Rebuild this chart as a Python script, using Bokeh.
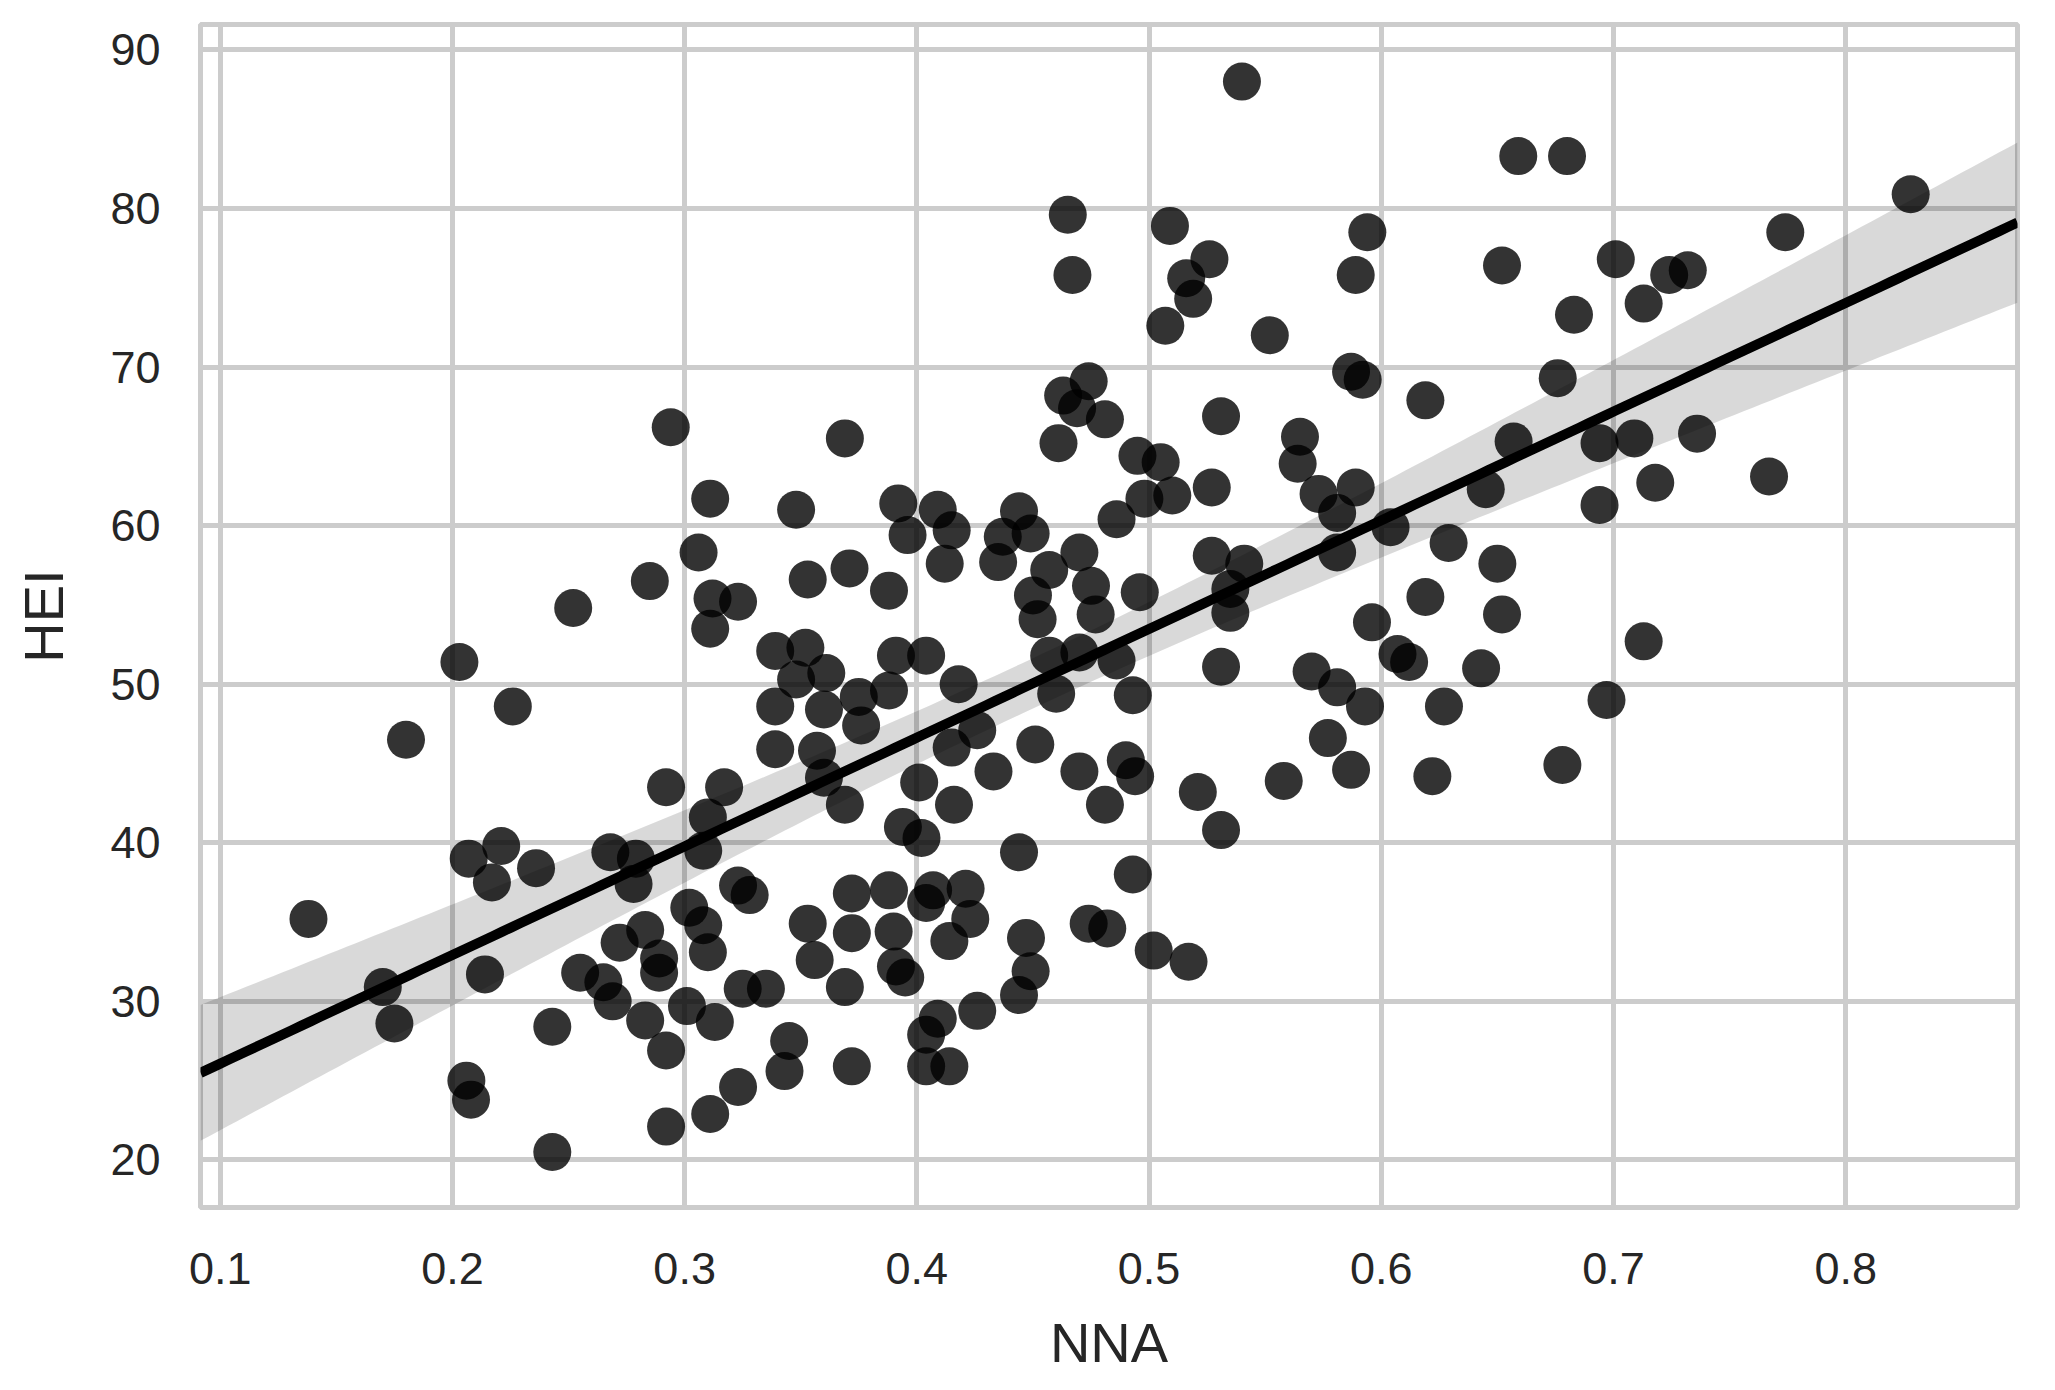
import numpy as np
from bokeh.plotting import figure
from bokeh.models import FixedTicker, Range1d
from bokeh.embed import file_html
from bokeh.resources import INLINE

x_label = "NNA"
y_label = "HEI"
x_ticks = [0.1, 0.2, 0.3, 0.4, 0.5, 0.6, 0.7, 0.8]
y_ticks = [20, 30, 40, 50, 60, 70, 80, 90]

nna = [
    0.138, 0.170, 0.175, 0.180, 0.203, 0.206, 0.208, 0.207, 0.221, 0.217,
    0.214, 0.226, 0.236, 0.243, 0.243, 0.252, 0.268, 0.279, 0.278, 0.310,
    0.308, 0.323, 0.328, 0.302, 0.308, 0.283, 0.272, 0.289, 0.310, 0.289,
    0.255, 0.265, 0.269, 0.301, 0.313, 0.325, 0.335, 0.283, 0.292, 0.345,
    0.343, 0.323, 0.311, 0.292, 0.353, 0.356, 0.294, 0.311, 0.348, 0.306,
    0.285, 0.353, 0.312, 0.323, 0.311, 0.339, 0.352, 0.348, 0.339, 0.339,
    0.292, 0.317,
    0.369, 0.465, 0.467, 0.509, 0.526, 0.516, 0.519, 0.507, 0.552, 0.594,
    0.589, 0.587, 0.592, 0.463, 0.469, 0.474, 0.481, 0.540, 0.531, 0.565,
    0.619, 0.461, 0.495, 0.505, 0.527, 0.564, 0.573, 0.589, 0.581, 0.604,
    0.581, 0.527, 0.541, 0.535, 0.535, 0.531, 0.596, 0.607, 0.612, 0.570,
    0.581, 0.593, 0.577, 0.587, 0.558, 0.521, 0.531,
    0.392, 0.396, 0.409, 0.415, 0.412, 0.388, 0.444, 0.449, 0.437, 0.435,
    0.457, 0.470, 0.450, 0.475, 0.452, 0.477, 0.496, 0.486, 0.498, 0.510,
    0.391, 0.404, 0.388, 0.418, 0.457, 0.470, 0.486, 0.460, 0.493,
    0.371, 0.361, 0.360, 0.375, 0.376, 0.357, 0.360, 0.369, 0.401, 0.416,
    0.415, 0.426, 0.433, 0.451, 0.470, 0.490, 0.494, 0.481, 0.394, 0.402,
    0.444, 0.493, 0.372, 0.388, 0.407, 0.421, 0.404, 0.423, 0.372, 0.390,
    0.414, 0.369, 0.391, 0.395, 0.474, 0.482, 0.502, 0.517, 0.447, 0.449,
    0.444, 0.426, 0.409, 0.404, 0.372, 0.404, 0.414,
    0.659, 0.680, 0.828, 0.774, 0.652, 0.701, 0.724, 0.732, 0.713, 0.683,
    0.676, 0.657, 0.694, 0.709, 0.736, 0.645, 0.718, 0.767, 0.694, 0.629,
    0.650, 0.619, 0.652, 0.643, 0.713, 0.627, 0.697, 0.622, 0.678,
]

hei = [
    35.2, 30.9, 28.6, 46.5, 51.4, 25.0, 23.8, 39.0, 39.8, 37.5,
    31.7, 48.6, 38.4, 28.4, 20.5, 54.8, 39.4, 39.0, 37.4, 41.6,
    39.5, 37.3, 36.7, 35.9, 34.8, 34.5, 33.7, 32.7, 33.1, 31.8,
    31.8, 31.2, 30.0, 29.7, 28.7, 30.8, 30.8, 28.8, 26.9, 27.5,
    25.6, 24.6, 22.9, 22.1, 34.9, 32.6, 66.2, 61.7, 61.0, 58.3,
    56.5, 56.6, 55.4, 55.2, 53.5, 52.1, 52.3, 50.3, 48.6, 45.9,
    43.5, 43.5,
    65.5, 79.6, 75.8, 78.9, 76.8, 75.6, 74.3, 72.6, 72.0, 78.5,
    75.8, 69.7, 69.2, 68.2, 67.4, 69.1, 66.7, 88.0, 66.9, 65.6,
    67.9, 65.2, 64.4, 64.0, 62.4, 63.9, 62.0, 62.4, 60.8, 59.9,
    58.3, 58.1, 57.6, 56.0, 54.5, 51.1, 53.9, 51.9, 51.4, 50.8,
    49.8, 48.6, 46.6, 44.6, 43.9, 43.2, 40.8,
    61.4, 59.4, 61.0, 59.7, 57.6, 55.9, 60.9, 59.5, 59.3, 57.7,
    57.2, 58.3, 55.6, 56.2, 54.1, 54.4, 55.8, 60.4, 61.7, 61.9,
    51.8, 51.8, 49.6, 50.0, 51.8, 52.0, 51.5, 49.4, 49.3,
    57.3, 50.7, 48.4, 49.2, 47.4, 45.8, 44.1, 42.4, 43.8, 42.4,
    46.0, 47.1, 44.5, 46.2, 44.5, 45.2, 44.2, 42.4, 41.0, 40.3,
    39.4, 38.0, 36.8, 37.0, 37.0, 37.1, 36.2, 35.2, 34.3, 34.4,
    33.8, 30.9, 32.2, 31.5, 34.9, 34.6, 33.2, 32.5, 34.0, 31.9,
    30.4, 29.4, 28.9, 27.9, 25.9, 25.9, 25.9,
    83.3, 83.3, 80.9, 78.5, 76.4, 76.8, 75.8, 76.1, 74.0, 73.3,
    69.3, 65.3, 65.2, 65.5, 65.8, 62.3, 62.7, 63.1, 61.3, 58.9,
    57.6, 55.5, 54.4, 51.0, 52.7, 48.6, 49.0, 44.2, 44.9,
]

X_LO, X_HI = 0.0915, 0.874
Y_LO, Y_HI = 17.0, 91.6

# ordinary least squares fit with 95% confidence band
x = np.asarray(nna, dtype=float)
y = np.asarray(hei, dtype=float)
slope, intercept = np.polyfit(x, y, 1)
n = len(x)
resid = y - (intercept + slope * x)
s = np.sqrt(np.sum(resid ** 2) / (n - 2))
xm = x.mean()
sxx = np.sum((x - xm) ** 2)
xg = np.linspace(X_LO, X_HI, 200)
yg = intercept + slope * xg
se = s * np.sqrt(1.0 / n + (xg - xm) ** 2 / sxx)
lo = yg - 1.97 * se
hi = yg + 1.97 * se

FONT = "Liberation Sans"
TXT = "#262626"
GRID = "#cccccc"

p = figure(
    width=2043, height=1378,
    x_range=Range1d(X_LO, X_HI), y_range=Range1d(Y_LO, Y_HI),
    output_backend="svg", toolbar_location=None,
    min_border_left=200, min_border_right=26,
    min_border_top=24, min_border_bottom=171,
    background_fill_color="white", border_fill_color="white",
)

p.outline_line_color = GRID
p.outline_line_width = 5

p.xaxis.ticker = FixedTicker(ticks=x_ticks)
p.yaxis.ticker = FixedTicker(ticks=y_ticks)
for ax in (p.xaxis, p.yaxis):
    ax.axis_line_color = None
    ax.major_tick_line_color = None
    ax.minor_tick_line_color = None
    ax.major_tick_out = 0
    ax.major_tick_in = 0
    ax.major_label_text_font = FONT
    ax.major_label_text_font_size = "45px"
    ax.major_label_text_color = TXT
    ax.axis_label_text_font = FONT
    ax.axis_label_text_font_size = "56px"
    ax.axis_label_text_color = TXT
    ax.axis_label_text_font_style = "normal"

p.xaxis.axis_label = x_label
p.yaxis.axis_label = y_label
p.xaxis.major_label_standoff = 45
p.yaxis.major_label_standoff = 40
p.xaxis.axis_label_standoff = 24
p.yaxis.axis_label_standoff = 32

p.xgrid.grid_line_color = GRID
p.ygrid.grid_line_color = GRID
p.xgrid.grid_line_width = 5
p.ygrid.grid_line_width = 5

p.scatter(nna, hei, size=38, fill_color="black", fill_alpha=0.8, line_color=None)
p.varea(x=xg, y1=lo, y2=hi, fill_color="black", fill_alpha=0.15)
p.line(xg, yg, line_color="black", line_width=10)

open("out.html", "w").write(file_html(p, INLINE))
